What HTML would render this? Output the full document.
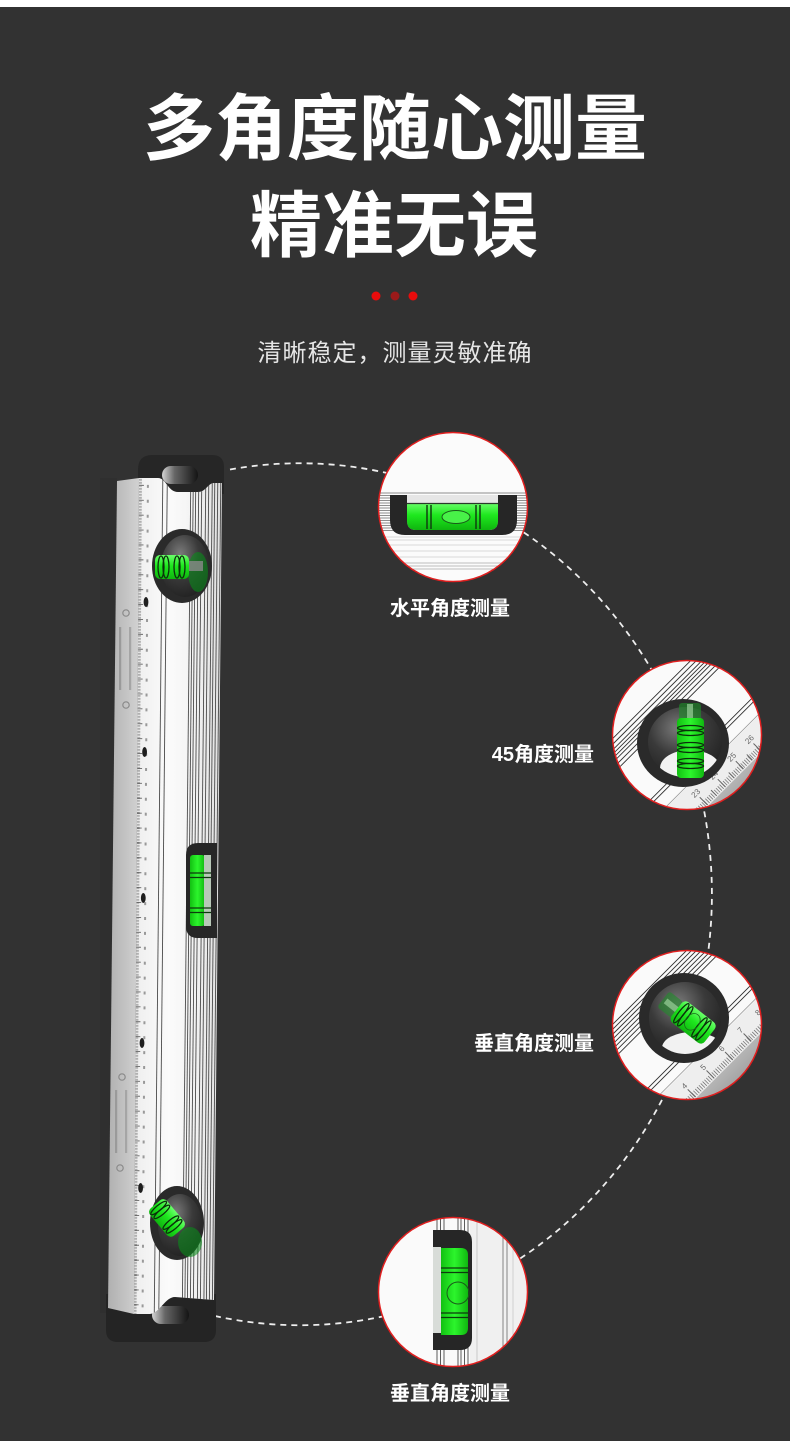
<!DOCTYPE html>
<html><head><meta charset="utf-8">
<style>
html,body{margin:0;padding:0;background:#323232;}
svg{display:block}
</style></head>
<body>
<svg width="790" height="1441" viewBox="0 0 790 1441" xmlns="http://www.w3.org/2000/svg">
<defs>
 <linearGradient id="gV" x1="0" y1="0" x2="0" y2="1">
  <stop offset="0" stop-color="#6aff6a"/><stop offset="0.45" stop-color="#1ee81e"/><stop offset="1" stop-color="#0fb50f"/>
 </linearGradient>
 <linearGradient id="gH" x1="0" y1="0" x2="1" y2="0">
  <stop offset="0" stop-color="#12c012"/><stop offset="0.5" stop-color="#2cf52c"/><stop offset="1" stop-color="#10b810"/>
 </linearGradient>
 <radialGradient id="dome" cx="0.4" cy="0.3" r="0.85">
  <stop offset="0" stop-color="#7a7a7a"/><stop offset="0.45" stop-color="#3a3a3a"/><stop offset="1" stop-color="#1a1a1a"/>
 </radialGradient>
 <linearGradient id="side" x1="0" y1="0" x2="1" y2="0">
  <stop offset="0" stop-color="#b0b0b0"/><stop offset="1" stop-color="#d2d2d2"/>
 </linearGradient>
 <linearGradient id="front" x1="0" y1="0" x2="1" y2="0">
  <stop offset="0" stop-color="#eeeeee"/><stop offset="0.4" stop-color="#fbfbfb"/><stop offset="0.7" stop-color="#f2f2f2"/><stop offset="1" stop-color="#e0e0e0"/>
 </linearGradient>
 <linearGradient id="slot" x1="0" y1="0" x2="1" y2="0">
  <stop offset="0" stop-color="#d5d5d5"/><stop offset="0.35" stop-color="#666"/><stop offset="1" stop-color="#141414"/>
 </linearGradient>
 <linearGradient id="grayc" x1="0" y1="0" x2="0" y2="1">
  <stop offset="0" stop-color="#b5b5b5"/><stop offset="1" stop-color="#8e8e8e"/>
 </linearGradient>
 <clipPath id="frontClip">
  <path d="M139 478 L158 478 C166 478 168 492 178 492 L198 492 C206 492 208 483 214 483 L222 483 L214 1300 L175 1297 C165 1297 160 1313 150 1314 L134 1314 Z"/>
 </clipPath>
 <clipPath id="c1"><circle cx="453" cy="507" r="74.5"/></clipPath>
 <clipPath id="c2"><circle cx="687" cy="735" r="74.5"/></clipPath>
 <clipPath id="c3"><circle cx="687" cy="1025" r="74.5"/></clipPath>
 <clipPath id="c4"><circle cx="453" cy="1292" r="74.5"/></clipPath>
 <clipPath id="in2"><ellipse cx="685" cy="742" rx="37" ry="35"/></clipPath>
 <clipPath id="in3"><ellipse cx="685" cy="1018" rx="36" ry="36"/></clipPath>
</defs>

<rect width="790" height="1441" fill="#323232"/>
<rect width="790" height="7" fill="#ffffff"/>

<!-- Titles -->
<text x="395" y="154" font-size="72" font-weight="bold" fill="#ffffff" text-anchor="middle" font-family="'Liberation Sans','Noto Sans CJK SC',sans-serif">多角度随心测量</text>
<text x="394" y="251" font-size="72" font-weight="bold" fill="#ffffff" text-anchor="middle" font-family="'Liberation Sans','Noto Sans CJK SC',sans-serif">精准无误</text>
<circle cx="376" cy="296" r="4.5" fill="#e80c0c"/>
<circle cx="395" cy="296" r="4.5" fill="#9c1a1a"/>
<circle cx="413" cy="296" r="4.5" fill="#e80c0c"/>
<text x="395" y="361" font-size="24" letter-spacing="1" fill="#e6e6e6" text-anchor="middle" font-family="'Liberation Sans','Noto Sans CJK SC',sans-serif">清晰稳定，测量灵敏准确</text>

<!-- Dashed arc -->
<path d="M230 469.5 A412 431 0 1 1 215 1316" fill="none" stroke="#eeeeee" stroke-width="1.8" stroke-dasharray="6 5"/>

<!-- ===== LEVEL ===== -->
<rect x="100" y="478" width="17" height="835" fill="#2f2f2f"/>
<!-- top cap -->
<path d="M138 470 Q138 455 152 455 L212 455 Q224 455 224 467 L224 494 L138 494 Z" fill="#262626"/>
<rect x="162" y="466" width="36" height="18" rx="9" fill="url(#slot)"/>
<!-- bottom cap -->
<path d="M106 1294 L216 1294 L216 1330 Q216 1342 204 1342 L118 1342 Q106 1342 106 1330 Z" fill="#242424"/>
<rect x="152" y="1306" width="37" height="18" rx="9" fill="url(#slot)"/>
<!-- side face -->
<path d="M117 481 L139 478 L134 1314 L108 1308 Z" fill="url(#side)"/>
<rect x="119" y="627" width="2.2" height="63" fill="#9a9a9a"/>
<rect x="129" y="627" width="2.2" height="63" fill="#a5a5a5"/>
<circle cx="126" cy="613" r="3.2" fill="none" stroke="#8a8a8a" stroke-width="1.2"/>
<circle cx="126" cy="705" r="3.2" fill="none" stroke="#8a8a8a" stroke-width="1.2"/>
<rect x="115" y="1090" width="2.2" height="63" fill="#9a9a9a"/>
<rect x="125" y="1090" width="2.2" height="63" fill="#a5a5a5"/>
<circle cx="122" cy="1077" r="3.2" fill="none" stroke="#8a8a8a" stroke-width="1.2"/>
<circle cx="120" cy="1168" r="3.2" fill="none" stroke="#8a8a8a" stroke-width="1.2"/>
<!-- front face -->
<path d="M139 478 L158 478 C166 478 168 492 178 492 L198 492 C206 492 208 483 214 483 L222 483 L214 1300 L175 1297 C165 1297 160 1313 150 1314 L134 1314 Z" fill="url(#front)"/>
<g clip-path="url(#frontClip)">
 <line x1="140.5" y1="470" x2="135" y2="1320" stroke="#8a8a8a" stroke-width="3" stroke-dasharray="0.6 0.9"/>
 <line x1="141.5" y1="470" x2="136" y2="1320" stroke="#666" stroke-width="5" stroke-dasharray="0.9 14"/>
 <line x1="148" y1="470" x2="142.5" y2="1320" stroke="#999" stroke-width="2" stroke-dasharray="3 11.9"/>
 <g stroke="#4a4a4a" stroke-width="0.9">
  <line x1="162.9" y1="470" x2="154.2" y2="1320"/>
  <line x1="167.4" y1="470" x2="158.7" y2="1320"/>
  <line x1="190.9" y1="470" x2="182.2" y2="1320"/>
  <line x1="193.4" y1="470" x2="184.7" y2="1320"/>
  <line x1="195.9" y1="470" x2="187.2" y2="1320"/>
  <line x1="198.9" y1="470" x2="190.2" y2="1320"/>
  <line x1="201.9" y1="470" x2="193.2" y2="1320"/>
  <line x1="205.9" y1="470" x2="197.2" y2="1320"/>
  <line x1="208.9" y1="470" x2="200.2" y2="1320"/>
  <line x1="212.4" y1="470" x2="203.7" y2="1320"/>
  <line x1="214.9" y1="470" x2="206.2" y2="1320"/>
  <line x1="217.9" y1="470" x2="209.2" y2="1320"/>
  <line x1="220.9" y1="470" x2="212.2" y2="1320"/>
 </g>
</g>
<g fill="#1e1e1e">
 <ellipse cx="146" cy="602" rx="2.4" ry="5"/>
 <ellipse cx="144.6" cy="752" rx="2.4" ry="5"/>
 <ellipse cx="143.3" cy="898" rx="2.4" ry="5"/>
 <ellipse cx="142" cy="1043" rx="2.4" ry="5"/>
 <ellipse cx="140.6" cy="1188" rx="2.4" ry="5"/>
</g>
<!-- top bubble -->
<ellipse cx="182" cy="566" rx="30" ry="37" fill="#2a2a2a"/>
<ellipse cx="185" cy="566" rx="24" ry="31" fill="url(#dome)"/>
<ellipse cx="198" cy="572" rx="10" ry="20" fill="#0a8a1a" opacity="0.6"/>
<rect x="186" y="561" width="17" height="10" fill="#8a8a8a" opacity="0.8"/>
<rect x="155" y="555" width="34" height="24" rx="5" fill="url(#gV)"/>
<g fill="none" stroke="#0b300b" stroke-width="1.3">
 <ellipse cx="161" cy="567" rx="3" ry="11"/>
 <ellipse cx="166" cy="567" rx="3" ry="11"/>
 <ellipse cx="177" cy="567" rx="3" ry="11"/>
 <ellipse cx="182" cy="567" rx="3" ry="11"/>
</g>
<!-- middle vial -->
<path d="M217 843 L198 843 Q186 843 186 855 L186 926 Q186 938 198 938 L217 938 Z" fill="#262626"/>
<rect x="190" y="855" width="15" height="71" rx="3" fill="url(#gH)"/>
<rect x="204" y="855" width="7" height="71" fill="#b8c8b8"/>
<g stroke="#0d3a0d" stroke-width="1.2">
 <line x1="190" y1="873" x2="211" y2="873"/><line x1="190" y1="877.5" x2="211" y2="877.5"/>
 <line x1="190" y1="908" x2="211" y2="908"/><line x1="190" y1="912.5" x2="211" y2="912.5"/>
</g>
<!-- bottom bubble -->
<ellipse cx="177" cy="1223" rx="27" ry="37" fill="#2a2a2a"/>
<ellipse cx="180" cy="1225" rx="22" ry="31" fill="url(#dome)"/>
<ellipse cx="190" cy="1242" rx="12" ry="15" fill="#0a8a1a" opacity="0.6"/>
<g transform="rotate(50 167 1218)">
 <rect x="149" y="1207" width="36" height="22" rx="5" fill="url(#gV)"/>
 <g fill="none" stroke="#0b300b" stroke-width="1.3">
  <ellipse cx="154" cy="1218" rx="2.6" ry="10"/>
  <ellipse cx="159" cy="1218" rx="2.6" ry="10"/>
  <ellipse cx="173" cy="1218" rx="2.6" ry="10"/>
  <ellipse cx="178" cy="1218" rx="2.6" ry="10"/>
 </g>
</g>

<!-- ===== CIRCLE 1 ===== -->
<g clip-path="url(#c1)">
 <rect x="370" y="425" width="170" height="165" fill="#fbfbfb"/>
 <g stroke="#6a6a6a" stroke-width="0.7">
  <line x1="370" y1="493" x2="540" y2="493"/><line x1="370" y1="495.5" x2="540" y2="495.5"/>
  <line x1="370" y1="498" x2="540" y2="498"/><line x1="370" y1="500.5" x2="540" y2="500.5"/>
  <line x1="370" y1="503" x2="540" y2="503"/><line x1="370" y1="505.5" x2="540" y2="505.5"/>
  <line x1="370" y1="508" x2="540" y2="508"/><line x1="370" y1="510.5" x2="540" y2="510.5"/>
  <line x1="370" y1="513" x2="540" y2="513"/><line x1="370" y1="515.5" x2="540" y2="515.5"/>
  <line x1="370" y1="518" x2="540" y2="518"/><line x1="370" y1="520.5" x2="540" y2="520.5"/>
  <line x1="370" y1="523" x2="540" y2="523"/><line x1="370" y1="525.5" x2="540" y2="525.5"/>
  <line x1="370" y1="528" x2="540" y2="528"/><line x1="370" y1="530.5" x2="540" y2="530.5"/>
 </g>
 <g stroke="#cfcfcf" stroke-width="0.8">
  <line x1="370" y1="537" x2="540" y2="537"/><line x1="370" y1="540" x2="540" y2="540"/>
  <line x1="370" y1="545" x2="540" y2="545"/><line x1="370" y1="551" x2="540" y2="551"/>
  <line x1="370" y1="557" x2="540" y2="557"/>
 </g>
 <g stroke="#a8a8a8" stroke-width="0.8">
  <line x1="370" y1="563" x2="540" y2="563"/><line x1="370" y1="566" x2="540" y2="566"/>
  <line x1="370" y1="569" x2="540" y2="569"/>
 </g>
 <rect x="407" y="495" width="91" height="9" fill="#e6e6e6"/>
 <path d="M407 503 L498 503 L498 521 Q498 530 489 530 L416 530 Q407 530 407 521 Z" fill="url(#gV)"/>
 <line x1="407" y1="503.5" x2="498" y2="503.5" stroke="#2a3a2a" stroke-width="1.2"/>
 <path d="M390 495 L407 495 L407 521 Q407 530 416 530 L489 530 Q498 530 498 521 L498 495 L517 495 L517 520 Q517 535 502 535 L405 535 Q390 535 390 520 Z" fill="#262626"/>
 <g stroke="#104010" stroke-width="1.5">
  <line x1="427" y1="505" x2="427" y2="529"/><line x1="431" y1="505" x2="431" y2="529"/>
  <line x1="476" y1="505" x2="476" y2="529"/><line x1="480" y1="505" x2="480" y2="529"/>
 </g>
 <ellipse cx="456" cy="517" rx="14" ry="6.5" fill="#48f248" stroke="#1a5a1a" stroke-width="1"/>
</g>
<circle cx="453" cy="507" r="74.5" fill="none" stroke="#e01f1f" stroke-width="1.5"/>

<!-- ===== CIRCLE 2 ===== -->
<g clip-path="url(#c2)">
 <rect x="605" y="655" width="165" height="165" fill="#fafafa"/>
 <g transform="translate(687 735) rotate(-45)">
  <g stroke="#2e2e2e" stroke-width="0.9">
   <line x1="-110" y1="-50" x2="110" y2="-50"/><line x1="-110" y1="-46" x2="110" y2="-46"/>
   <line x1="-110" y1="-42" x2="110" y2="-42"/><line x1="-110" y1="-39" x2="110" y2="-39"/>
   <line x1="-110" y1="-36" x2="110" y2="-36"/><line x1="-110" y1="-33" x2="110" y2="-33"/>
   <line x1="-110" y1="-29" x2="110" y2="-29"/><line x1="-110" y1="-25" x2="110" y2="-25"/>
   <line x1="-110" y1="20" x2="110" y2="20"/><line x1="-110" y1="23.5" x2="110" y2="23.5"/>
  </g>
  <line x1="-110" y1="36" x2="110" y2="36" stroke="#999" stroke-width="0.8"/>
  <rect x="-110" y="37" width="220" height="28" fill="#eeeeee"/>
  <line x1="-110" y1="61" x2="110" y2="61" stroke="#777" stroke-width="6" stroke-dasharray="0.8 1.7"/>
  <g stroke="#666" stroke-width="1">
   <line x1="-35" y1="53" x2="-35" y2="64"/><line x1="-9.5" y1="53" x2="-9.5" y2="64"/>
   <line x1="16" y1="53" x2="16" y2="64"/><line x1="41" y1="53" x2="41" y2="64"/>
   <line x1="-22" y1="56" x2="-22" y2="64"/><line x1="3" y1="56" x2="3" y2="64"/><line x1="28.5" y1="56" x2="28.5" y2="64"/>
  </g>
  <g font-size="8" fill="#666" text-anchor="middle" font-family="'Liberation Sans',sans-serif">
   <text x="-35" y="50">23</text><text x="-9.5" y="50">24</text><text x="16" y="50">25</text><text x="41" y="50">26</text>
  </g>
  <rect x="-110" y="65" width="220" height="40" fill="url(#grayc)"/>
 </g>
 <ellipse cx="683" cy="743" rx="46" ry="44" fill="#2a2a2a"/>
 <ellipse cx="685" cy="742" rx="37" ry="35" fill="url(#dome)"/>
 <g clip-path="url(#in2)">
  <ellipse cx="690" cy="768" rx="30" ry="18" fill="#f2f2f2"/>
 </g>
 <rect x="679" y="703" width="22" height="18" rx="3" fill="#1f8a2a" opacity="0.65"/>
 <rect x="687" y="704" width="6" height="16" fill="#9ad09a" opacity="0.7"/>
 <rect x="677" y="718" width="27" height="60" rx="4" fill="url(#gH)"/>
 <g fill="none" stroke="#0b300b" stroke-width="1.3">
  <ellipse cx="690.5" cy="728" rx="13" ry="2.5"/><ellipse cx="690.5" cy="733" rx="13" ry="2.5"/>
  <ellipse cx="690.5" cy="745" rx="13" ry="2.5"/><ellipse cx="690.5" cy="750" rx="13" ry="2.5"/>
  <ellipse cx="690.5" cy="761" rx="13" ry="2.5"/><ellipse cx="690.5" cy="766" rx="13" ry="2.5"/>
 </g>
</g>
<circle cx="687" cy="735" r="74.5" fill="none" stroke="#e01f1f" stroke-width="1.5"/>

<!-- ===== CIRCLE 3 ===== -->
<g clip-path="url(#c3)">
 <rect x="605" y="945" width="165" height="165" fill="#fafafa"/>
 <g transform="translate(687 1025) rotate(-45)">
  <g stroke="#2e2e2e" stroke-width="0.9">
   <line x1="-110" y1="-53" x2="110" y2="-53"/><line x1="-110" y1="-49.5" x2="110" y2="-49.5"/>
   <line x1="-110" y1="-46" x2="110" y2="-46"/><line x1="-110" y1="-42.5" x2="110" y2="-42.5"/>
   <line x1="-110" y1="-39" x2="110" y2="-39"/><line x1="-110" y1="-35.5" x2="110" y2="-35.5"/>
   <line x1="-110" y1="-32" x2="110" y2="-32"/><line x1="-110" y1="-28" x2="110" y2="-28"/>
   <line x1="-110" y1="17" x2="110" y2="17"/><line x1="-110" y1="20.5" x2="110" y2="20.5"/>
  </g>
  <line x1="-110" y1="30" x2="110" y2="30" stroke="#999" stroke-width="0.8"/>
  <rect x="-110" y="31" width="220" height="27" fill="#eeeeee"/>
  <line x1="-110" y1="54" x2="110" y2="54" stroke="#777" stroke-width="6" stroke-dasharray="0.8 1.8"/>
  <g stroke="#666" stroke-width="1">
   <line x1="-45" y1="46" x2="-45" y2="57"/><line x1="-18.4" y1="46" x2="-18.4" y2="57"/>
   <line x1="7.8" y1="46" x2="7.8" y2="57"/><line x1="34" y1="46" x2="34" y2="57"/><line x1="59" y1="46" x2="59" y2="57"/>
  </g>
  <g font-size="8" fill="#666" text-anchor="middle" font-family="'Liberation Sans',sans-serif">
   <text x="-45" y="44">4</text><text x="-18.4" y="44">5</text><text x="7.8" y="44">6</text><text x="34" y="44">7</text><text x="59" y="44">8</text>
  </g>
  <rect x="-110" y="58" width="220" height="40" fill="url(#grayc)"/>
 </g>
 <ellipse cx="684" cy="1018" rx="45" ry="45" fill="#2a2a2a"/>
 <ellipse cx="685" cy="1018" rx="36" ry="36" fill="url(#dome)"/>
 <g clip-path="url(#in3)">
  <ellipse cx="692" cy="1048" rx="30" ry="16" fill="#f2f2f2"/>
 </g>
 <g transform="rotate(38 690 1020)">
  <rect x="656" y="1010" width="18" height="20" rx="3" fill="#1f8a2a" opacity="0.6"/>
  <rect x="659" y="1017" width="16" height="6" fill="#9ad09a" opacity="0.7"/>
  <rect x="673" y="1007" width="42" height="26" rx="5" fill="url(#gV)"/>
  <g fill="none" stroke="#0b300b" stroke-width="1.3">
   <ellipse cx="679" cy="1020" rx="2.6" ry="12"/><ellipse cx="684" cy="1020" rx="2.6" ry="12"/>
   <ellipse cx="702" cy="1020" rx="2.6" ry="12"/><ellipse cx="707" cy="1020" rx="2.6" ry="12"/>
  </g>
  <ellipse cx="693" cy="1020" rx="7" ry="9" fill="none" stroke="#1a6a1a" stroke-width="0.8"/>
 </g>
</g>
<circle cx="687" cy="1025" r="74.5" fill="none" stroke="#e01f1f" stroke-width="1.5"/>

<!-- ===== CIRCLE 4 ===== -->
<g clip-path="url(#c4)">
 <rect x="370" y="1210" width="170" height="165" fill="#fafafa"/>
 <rect x="470" y="1210" width="70" height="165" fill="#f0f0f0"/>
 <g stroke="#4a4a4a" stroke-width="0.9">
  <line x1="437" y1="1210" x2="437" y2="1375"/><line x1="440.5" y1="1210" x2="440.5" y2="1375"/>
  <line x1="444" y1="1210" x2="444" y2="1375"/>
  <line x1="458" y1="1210" x2="458" y2="1375"/><line x1="461" y1="1210" x2="461" y2="1375"/>
  <line x1="464.5" y1="1210" x2="464.5" y2="1375"/><line x1="468" y1="1210" x2="468" y2="1375"/>
 </g>
 <line x1="477" y1="1210" x2="477" y2="1375" stroke="#c0c0c0" stroke-width="0.8"/>
 <line x1="503" y1="1210" x2="503" y2="1375" stroke="#777" stroke-width="0.9"/>
 <line x1="507" y1="1210" x2="507" y2="1375" stroke="#777" stroke-width="0.9"/>
 <line x1="513" y1="1210" x2="513" y2="1375" stroke="#c8c8c8" stroke-width="0.8"/>
 <path d="M433 1230 L460 1230 Q472 1230 472 1242 L472 1338 Q472 1350 460 1350 L433 1350 L433 1333 L441 1333 L441 1247 L433 1247 Z" fill="#262626"/>
 <rect x="433" y="1247" width="8" height="86" fill="#d8dcd8"/>
 <path d="M441 1248 L461 1248 Q468 1248 468 1255 L468 1328 Q468 1335 461 1335 L441 1335 Z" fill="url(#gH)"/>
 <g stroke="#0d3a0d" stroke-width="1.2">
  <line x1="441" y1="1268" x2="468" y2="1268"/><line x1="441" y1="1272.5" x2="468" y2="1272.5"/>
  <line x1="441" y1="1313" x2="468" y2="1313"/><line x1="441" y1="1317.5" x2="468" y2="1317.5"/>
 </g>
 <circle cx="458" cy="1293" r="11" fill="none" stroke="#1a5a1a" stroke-width="1"/>
</g>
<circle cx="453" cy="1292" r="74.5" fill="none" stroke="#e01f1f" stroke-width="1.5"/>

<!-- Labels -->
<g font-size="20" font-weight="bold" fill="#ffffff" font-family="'Liberation Sans','Noto Sans CJK SC',sans-serif">
 <text x="450" y="615" text-anchor="middle">水平角度测量</text>
 <text x="594" y="761" text-anchor="end">45角度测量</text>
 <text x="594" y="1050" text-anchor="end">垂直角度测量</text>
 <text x="450" y="1400" text-anchor="middle">垂直角度测量</text>
</g>
</svg>
</body></html>
